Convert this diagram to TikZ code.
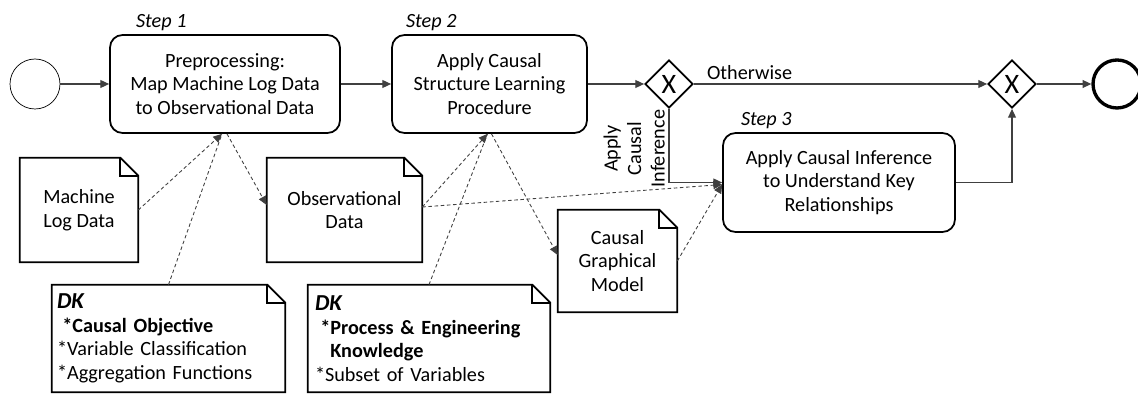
\documentclass[tikz,border=0pt]{standalone}
\usepackage{fontspec}
\setmainfont{Carlito}
\usetikzlibrary{shapes.geometric,arrows.meta}
\newcommand{\drawnote}[2]{%
\draw[noteline] (#1.south west) -- (#1.north west) -- ([xshift=-#2]#1.north east) -- ([yshift=-#2]#1.north east) -- (#1.south east) -- cycle;
\draw[noteline] ([xshift=-#2]#1.north east) |- ([yshift=-#2]#1.north east);}

\begin{document}
\begin{tikzpicture}[x=0.02cm,y=-0.02cm,
  font=\fontsize{11.5}{13.4}\selectfont,
  task/.style={draw,line width=1pt,rounded corners=0.25cm,align=center,inner sep=0pt,minimum height=1.96cm},
  gate/.style={draw,diamond,line width=1pt,minimum size=0.96cm,inner sep=0pt,font=\fontsize{16}{16}\selectfont},
  event/.style={draw,circle,minimum size=1cm,inner sep=0pt},
  note/.style={align=center,inner sep=0pt,minimum height=2.08cm},
  noteline/.style={line width=1pt},
  steplabel/.style={font=\fontsize{11.5}{13.4}\selectfont\itshape,inner sep=2pt},
  flow/.style={draw=black!75,line width=0.7pt,-{Triangle[length=5pt,width=4.5pt]}},
  assoc/.style={draw=black!75,line width=0.5pt,dash pattern=on 2pt off 1.5pt,-{Triangle[length=5pt,width=4.5pt]}}]
\useasboundingbox (0,0) rectangle (1138,394);
\node[event] (start) at (35,84) {};
\node[task,minimum width=4.6cm] (step1) at (225,84) {Preprocessing:\\Map Machine Log Data\\to Observational Data};
\node[task,minimum width=3.9cm] (step2) at (489.5,84) {Apply Causal\\Structure Learning\\Procedure};
\node[gate] (gw1) at (669,84) {X};
\node[gate] (gw2) at (1012,84) {X};
\node[event,line width=1.9pt,minimum size=0.96cm] (endev) at (1117,84) {};
\node[task,minimum width=4.64cm,minimum height=1.98cm] (step3) at (839,182.5) {Apply Causal Inference\\to Understand Key\\Relationships};
\node[steplabel,anchor=south west] (lbl1) at ([xshift=0.46cm]step1.north west) {Step 1};
\node[steplabel,anchor=south west] (lbl2) at ([xshift=0.22cm]step2.north west) {Step 2};
\node[steplabel,anchor=south west] (lbl3) at ([xshift=0.3cm]step3.north west) {Step 3};
\node[note,align=left,minimum width=2.36cm] (mld) at (79,210) {Machine\\Log Data};
\node[note,minimum width=3.1cm] (obs) at (344.5,210) {Observational\\Data};
\node[note,minimum width=2.38cm,minimum height=2.04cm] (cgm) at (617.5,261) {Causal\\Graphical\\Model};
\node[note,align=left,minimum height=2.14cm,inner xsep=0.1cm,text width=4.46cm] (dk1) at (168.5,338.5) {{\fontsize{13}{14}\selectfont\bfseries\itshape DK}\\
\hspace{3pt}\textbf{*Causal Objective}\\
{*}Variable Classification\\
{*}Aggregation Functions};
\node[note,align=left,minimum height=2.14cm,inner xsep=0.14cm,text width=4.56cm] (dk2) at (429,338.5) {{\fontsize{13}{14}\selectfont\bfseries\itshape DK}\\
\hspace{3pt}\textbf{*Process \& Engineering}\\
\hspace{3pt}\textbf{\phantom{*}Knowledge}\\
{*}Subset of Variables};
\drawnote{mld}{0.36cm}
\drawnote{obs}{0.36cm}
\drawnote{cgm}{0.36cm}
\drawnote{dk1}{0.36cm}
\drawnote{dk2}{0.36cm}
\draw[flow] (start) -- (step1);
\draw[flow] (step1) -- (step2);
\draw[flow] (step2) -- (gw1);
\draw[flow] (gw1) -- node[pos=0.19,above,inner sep=2pt] (otw) {Otherwise} (gw2);
\draw[flow] (gw2) -- (endev);
\draw[flow] (gw1.south) |- node[pos=0.27,rotate=90,anchor=south,align=center,inner sep=2pt] (lblinf) {Apply\\Causal\\Inference} (step3.west);
\draw[flow] (step3.east) -| (gw2.south);
\draw[assoc] (mld.east) -- ([xshift=-0.06cm]step1.south);
\draw[assoc,-] (dk1.north) -- ([xshift=-0.06cm]step1.south);
\draw[assoc] ([xshift=0.04cm]step1.south) -- ([yshift=0.1cm]obs.west);
\draw[assoc] ([yshift=0.06cm]obs.east) -- ([xshift=-0.04cm]step2.south);
\draw[assoc,-] (dk2.north) -- ([xshift=-0.04cm]step2.south);
\draw[assoc] ([yshift=0.06cm]obs.east) -- ([yshift=-0.04cm]step3.west);
\draw[assoc] ([xshift=0.04cm]step2.south) -- ([yshift=0.12cm]cgm.west);
\draw[assoc] (cgm.east) -- ([yshift=-0.04cm]step3.west);
\end{tikzpicture}
\end{document}
